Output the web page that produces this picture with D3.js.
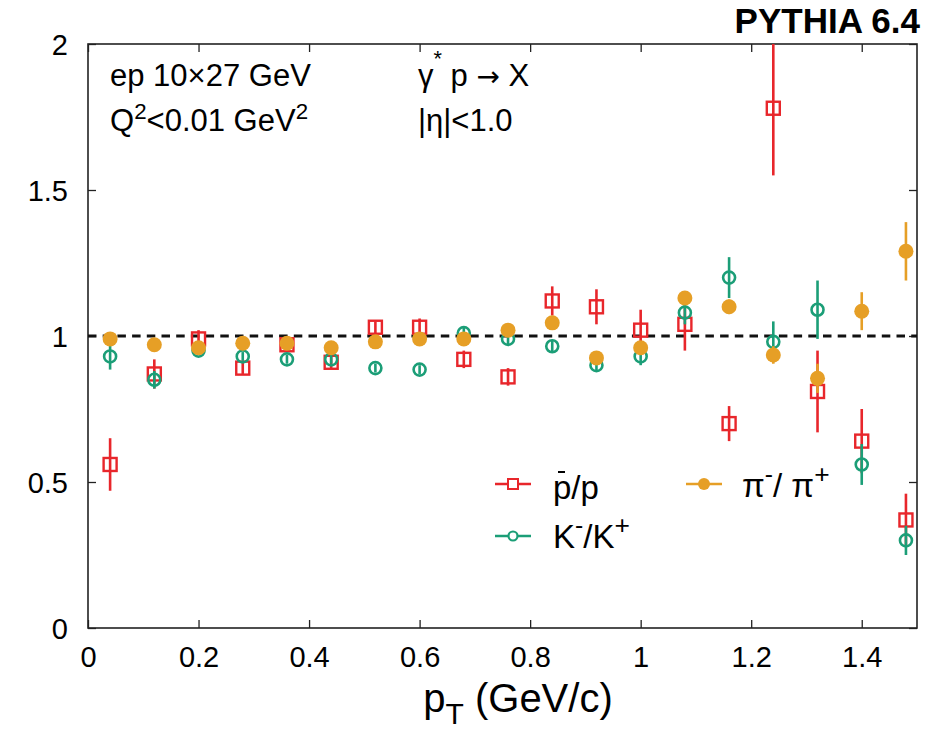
<!DOCTYPE html>
<html>
<head>
<meta charset="utf-8">
<script src="https://cdn.jsdelivr.net/npm/d3@7"></script>
<style>
  html, body { margin: 0; padding: 0; background: #fff; }
  svg { display: block; font-family: "Liberation Sans", Arial, Helvetica, sans-serif; }
</style>
</head>
<body>
<svg id="chart" width="935" height="729"></svg>
<script>
// Bin centres in transverse momentum (GeV/c)
const pT = [0.04, 0.12, 0.20, 0.28, 0.36, 0.44, 0.52, 0.60, 0.68, 0.76,
            0.84, 0.92, 1.00, 1.08, 1.16, 1.24, 1.32, 1.40, 1.48];

// anti-proton / proton
const pbarP    = [0.56, 0.87, 0.99, 0.89, 0.97, 0.91, 1.03, 1.03, 0.92, 0.86,
                  1.12, 1.10, 1.02, 1.04, 0.70, 1.78, 0.81, 0.64, 0.37];
const pbarPErr = [0.09, 0.05, 0.03, 0.02, 0.02, 0.02, 0.02, 0.03, 0.03, 0.03,
                  0.05, 0.06, 0.07, 0.09, 0.06, 0.23, 0.14, 0.11, 0.09];

// K- / K+
const kRatio   = [0.93, 0.85, 0.95, 0.93, 0.92, 0.92, 0.89, 0.885, 1.01, 0.99,
                  0.965, 0.90, 0.93, 1.08, 1.20, 0.98, 1.09, 0.56, 0.30];
const kErr     = [0.045, 0.03, 0.015, 0.015, 0.015, 0.015, 0.015, 0.015, 0.02, 0.02,
                  0.02, 0.02, 0.03, 0.04, 0.07, 0.07, 0.10, 0.07, 0.05];

// pi- / pi+
const piRatio  = [0.99, 0.97, 0.96, 0.975, 0.975, 0.96, 0.98, 0.99, 0.99, 1.02,
                  1.045, 0.925, 0.96, 1.13, 1.10, 0.935, 0.855, 1.085, 1.29];
const piErr    = [0.01, 0.01, 0.01, 0.01, 0.01, 0.01, 0.01, 0.01, 0.01, 0.01,
                  0.015, 0.015, 0.02, 0.02, 0.025, 0.03, 0.05, 0.065, 0.10];

const xTicks = [0, 0.2, 0.4, 0.6, 0.8, 1, 1.2, 1.4];
const yTicks = [0, 0.5, 1, 1.5, 2];

const RED = "#e8262b", GREEN = "#1b9e77", ORANGE = "#e69f26";

const svg = d3.select("#chart");
const plotL = 88, plotR = 917, plotT = 44, plotB = 628;

const x = d3.scaleLinear().domain([0, 1.5]).range([plotL, plotR]);
const y = d3.scaleLinear().domain([0, 2]).range([plotB, plotT]);

svg.append("defs").append("clipPath").attr("id", "plotclip")
  .append("rect").attr("x", plotL).attr("y", plotT)
  .attr("width", plotR - plotL).attr("height", plotB - plotT);

// Axes with inward ticks on all four sides
const tickLen = 8;
const fmt = d => d3.format("")(d);
const axB = svg.append("g").attr("transform", `translate(0,${plotB})`)
  .call(d3.axisBottom(x).tickValues(xTicks).tickSizeInner(-tickLen).tickSizeOuter(0).tickPadding(18).tickFormat(fmt));
const axT = svg.append("g").attr("transform", `translate(0,${plotT})`)
  .call(d3.axisTop(x).tickValues(xTicks).tickSizeInner(-tickLen).tickSizeOuter(0).tickFormat(""));
const axL = svg.append("g").attr("transform", `translate(${plotL},0)`)
  .call(d3.axisLeft(y).tickValues(yTicks).tickSizeInner(-tickLen).tickSizeOuter(0).tickPadding(20).tickFormat(fmt));
const axR = svg.append("g").attr("transform", `translate(${plotR},0)`)
  .call(d3.axisRight(y).tickValues(yTicks).tickSizeInner(-tickLen).tickSizeOuter(0).tickFormat(""));

[axB, axT, axL, axR].forEach(g => {
  g.select(".domain").remove();
  g.selectAll(".tick line").attr("stroke", "#222").attr("stroke-width", 1.3);
  g.selectAll(".tick text").attr("fill", "#000").attr("font-size", 29)
    .attr("font-family", "Liberation Sans, Arial, sans-serif");
});
axB.selectAll(".tick text").attr("dy", "0.71em");
axL.selectAll(".tick text").attr("dy", "0.36em");

// Frame
svg.append("rect").attr("x", plotL).attr("y", plotT)
  .attr("width", plotR - plotL).attr("height", plotB - plotT)
  .attr("fill", "none").attr("stroke", "#222").attr("stroke-width", 1.6);

// Reference line at unity
svg.append("line")
  .attr("x1", x(0)).attr("x2", x(1.5)).attr("y1", y(1)).attr("y2", y(1))
  .attr("stroke", "#111").attr("stroke-width", 3.2).attr("stroke-dasharray", "8.5,6.2");

const plot = svg.append("g").attr("clip-path", "url(#plotclip)");

function series(vals, errs, color) {
  const d = pT.map((p, i) => ({ p, v: vals[i], e: errs[i] }));
  const g = plot.append("g");
  g.selectAll("line.err").data(d).join("line").attr("class", "err")
    .attr("x1", r => x(r.p)).attr("x2", r => x(r.p))
    .attr("y1", r => y(r.v - r.e)).attr("y2", r => y(r.v + r.e))
    .attr("stroke", color).attr("stroke-width", 2.6);
  return { g, d };
}

// anti-proton / proton : open squares
const s1 = series(pbarP, pbarPErr, RED);
s1.g.selectAll("rect").data(s1.d).join("rect")
  .attr("x", r => x(r.p) - 6.5).attr("y", r => y(r.v) - 6.5)
  .attr("width", 13).attr("height", 13)
  .attr("fill", "none").attr("stroke", RED).attr("stroke-width", 2.4);

// K- / K+ : open circles
const s2 = series(kRatio, kErr, GREEN);
s2.g.selectAll("circle").data(s2.d).join("circle")
  .attr("cx", r => x(r.p)).attr("cy", r => y(r.v)).attr("r", 6)
  .attr("fill", "none").attr("stroke", GREEN).attr("stroke-width", 2.6);

// pi- / pi+ : filled circles
const s3 = series(piRatio, piErr, ORANGE);
s3.g.selectAll("circle").data(s3.d).join("circle")
  .attr("cx", r => x(r.p)).attr("cy", r => y(r.v)).attr("r", 7.5)
  .attr("fill", ORANGE);

// Text annotations; parts are [text, kind, size factor, shift]
function label(xp, yp, size, parts, extra) {
  const t = svg.append("text").attr("x", xp).attr("y", yp)
    .attr("font-size", size).attr("fill", "#000");
  if (extra) extra(t);
  parts.forEach(([s, kind, f, shift]) => {
    const ts = t.append("tspan").text(s);
    if (kind === "sup") ts.attr("font-size", size * (f || 0.75)).attr("baseline-shift", shift || "50%");
    if (kind === "sub") ts.attr("font-size", size * (f || 0.75)).attr("baseline-shift", shift || "-35%");
    if (kind === "sym") ts.attr("font-family", "DejaVu Sans").attr("font-size", size * (f || 1));
  });
  return t;
}

label(920, 33, 35, [["PYTHIA 6.4"]], t => t.attr("text-anchor", "end").attr("font-weight", "bold"));

label(110, 86, 31, [["ep 10×27 GeV"]]);
label(110, 131, 31, [["Q"], ["2", "sup", 0.72, "55%"], ["<0.01 GeV"], ["2", "sup", 0.72, "55%"]]);
label(418, 86, 31, [["γ"], ["*", "sup", 0.7, "90%"], [" p "], ["→", "sym", 0.9], [" X"]]);
label(418, 131, 31, [["|η|<1.0"]]);

// Axis title
label(518, 712, 40, [["p"], ["T", "sub", 0.75, "-40%"], [" (GeV/c)"]], t => t.attr("text-anchor", "middle"));

// Legend
function legendMark(cx, cy, color, kind) {
  svg.append("line").attr("x1", cx - 18).attr("x2", cx + 18)
    .attr("y1", cy).attr("y2", cy).attr("stroke", color).attr("stroke-width", 2.6);
  if (kind === "square")
    svg.append("rect").attr("x", cx - 5).attr("y", cy - 5).attr("width", 10).attr("height", 10)
      .attr("fill", "#fff").attr("stroke", color).attr("stroke-width", 2);
  if (kind === "open")
    svg.append("circle").attr("cx", cx).attr("cy", cy).attr("r", 4.5)
      .attr("fill", "#fff").attr("stroke", color).attr("stroke-width", 2.2);
  if (kind === "filled")
    svg.append("circle").attr("cx", cx).attr("cy", cy).attr("r", 6).attr("fill", color);
}

legendMark(513, 484, RED, "square");
label(553, 499, 33, [["p/p"]]);
svg.append("line").attr("x1", 558).attr("x2", 565).attr("y1", 472).attr("y2", 472)
  .attr("stroke", "#000").attr("stroke-width", 2);

legendMark(513, 536, GREEN, "open");
label(553, 548, 33, [["K"], ["-", "sup", 0.75, "60%"], ["/K"], ["+", "sup", 0.8, "55%"]]);

legendMark(704, 484, ORANGE, "filled");
label(742, 497, 33, [["π"], ["-", "sup", 0.75, "60%"], ["/ π"], ["+", "sup", 0.8, "55%"]]);
</script>
</body>
</html>
